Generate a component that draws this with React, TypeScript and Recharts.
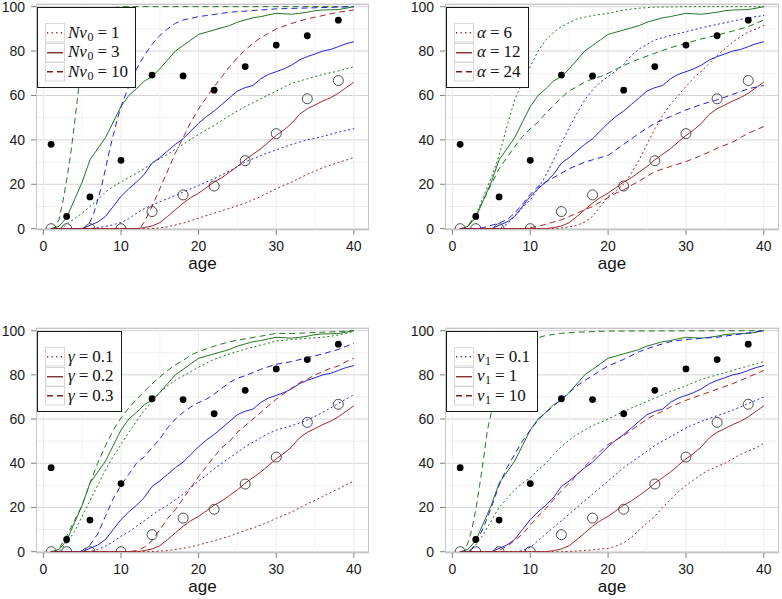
import React from "react";
import {
  ComposedChart,
  Line,
  Scatter,
  XAxis,
  YAxis,
  CartesianGrid,
  ReferenceLine,
} from "recharts";

type Pt = [number, number];

// observed data (same in every panel)
const dotAges = [1, 3, 6, 10, 14, 18, 22, 26, 30, 34, 38];
const filledDots = [38, 5.5, 14.3, 30.8, 69.2, 68.8, 62.4, 73, 82.7, 86.9, 93.9];
const openDots = [0, 0, 0, 0, 7.7, 15.2, 19.2, 30.6, 42.8, 58.5, 66.7];

const xTicks = [0, 10, 20, 30, 40];
const yTicks = [0, 20, 40, 60, 80, 100];

// default curves (solid) shared by all panels
const greenSolid: Pt[] = [[1,0],[1.5,0.5],[2,1],[3,5],[4,13],[5,21],[6,31],[7,36],[8,41],[9,48],[10,55],[11,60],[12,63],[13,66.5],[14,68.5],[15,72],[16,76],[17,80],[18,82.5],[19,85],[20,87.5],[21,88.5],[22,89.5],[23,90.5],[24,91.5],[25,93],[26,94],[27,95],[28,95.5],[29,96.3],[30,97],[31,96.8],[32,96.6],[33,97],[34,97.5],[35,98.2],[36,98.5],[37,98.6],[38,98.7],[39,99.3],[40,100]];
const blueSolid: Pt[] = [[1,0],[5,0],[6,1.5],[7,3],[8,5.5],[9,10],[10,14.5],[11,18],[12,21],[13,24.5],[14,29.5],[15,32],[16,35],[17,38],[18,40.5],[19,44],[20,47.5],[21,50.5],[22,53],[23,56],[24,59],[25,62],[26,63.5],[27,64.5],[28,67.5],[29,69.5],[30,70.7],[31,72],[32,73.7],[33,76],[34,77.5],[35,78.7],[36,80],[37,80.7],[38,82],[39,83.3],[40,84.2]];
const redSolid: Pt[] = [[1,0],[12,0],[13,0.5],[14,1.2],[15,2.7],[16,5.5],[17,8.5],[18,11.5],[19,14],[20,16],[21,18.5],[22,21],[23,23],[24,25.5],[25,28],[26,31],[27,33.5],[28,36],[29,39],[30,42],[31,44.5],[32,47.5],[33,51.5],[34,54],[35,55.7],[36,57.5],[37,59],[38,61],[39,63.5],[40,66]];

// N nu_0
const nu0Labels = ["1", "3", "10"];
const nu0GreenDot: Pt[] = [[1,0],[2,0],[2.5,0.5],[3,2],[4,4.5],[5,7],[6,10],[7,13],[8,16.5],[9,19],[10,21],[11,23],[12,25],[13,27],[14,29.5],[16,33.5],[18,38],[20,42.5],[22,46.5],[24,51],[26,55],[28,58.5],[30,62],[32,65.5],[34,67.5],[36,69.5],[38,71],[40,73]];
const nu0BlueDot: Pt[] = [[1,0],[6,0],[7,0.5],[8,1],[9,1.8],[10,2.8],[11,4.5],[12,7],[13,9],[14,10.7],[16,13.5],[18,16.5],[20,19.5],[22,22.5],[24,26],[26,30],[28,33],[30,35.5],[32,38],[34,40],[36,41.5],[38,43.5],[40,45]];
const nu0RedDot: Pt[] = [[1,0],[14,0],[16,0.8],[18,2.5],[20,4.7],[22,7],[24,9.2],[26,11.5],[28,14.5],[30,18],[32,21],[34,24.5],[36,27.5],[38,29.8],[40,32]];
const nu0GreenDash: Pt[] = [[1,0],[1.5,0.5],[2,4],[2.5,12],[3,22],[3.5,33],[4,47],[4.5,62],[5,75],[6,90],[7,97],[8,99],[10,100],[40,100]];
const nu0BlueDash: Pt[] = [[1,0],[5,0],[5.5,1],[6,3],[6.5,7],[7,13],[7.5,19],[8,27],[8.5,35],[9,42],[9.5,49],[10,55],[11,64],[12,72],[13,78],[14,83],[15,87],[16,90],[17,92.5],[18,94],[20,95.5],[22,96.5],[24,97.5],[26,98],[30,99],[35,99.5],[40,100]];
const nu0RedDash: Pt[] = [[1,0],[12,0],[12.5,0.5],[13,3],[14,10],[15,18],[16,26],[17,34],[18,41],[19,48],[20,54],[21,59],[22,64],[23,68.5],[24,73],[25,77],[26,80.5],[27,83.5],[28,86],[29,88],[30,90],[32,92.5],[34,94.5],[36,96],[38,97.5],[40,98.5]];

// alpha
const alphaLabels = ["6", "12", "24"];
const alphaGreenDot: Pt[] = [[1,0],[1.5,0],[2,1],[3,6],[4,14.5],[5,23],[6,33],[7,46],[8,58],[9,66],[10,73],[11,80],[12,85],[13,88.5],[14,91],[16,94.5],[18,96],[20,97],[22,98.5],[24,99.3],[26,99.8],[30,100],[40,100]];
const alphaBlueDot: Pt[] = [[1,0],[6,0],[7,2],[8,5.5],[9,9.5],[10,13],[11,18],[12,24],[13,31],[14,38.5],[15,45.5],[16,52],[17,58],[18,62.5],[19,66],[20,68.5],[21,71],[22,74],[23,78],[24,81],[25,83],[26,85],[28,87],[30,88.7],[32,90.5],[34,92],[36,93.5],[38,95],[40,96]];
const alphaRedDot: Pt[] = [[1,0],[13,0],[14,0.3],[15,0.8],[16,1.5],[17,3],[18,5.5],[19,10],[20,14.5],[21,17],[22,20],[23,25],[24,31],[25,38],[26,45],[27,51],[28,56],[29,60],[30,64],[31,68],[32,71],[33,74.5],[34,78],[35,81],[36,84],[37,86.5],[38,88.5],[39,90],[40,91.5]];
const alphaGreenDash: Pt[] = [[1,0],[1.5,0],[2,1.5],[3,6],[4,13],[5,20],[6,27],[7,32],[8,37],[9,41.5],[10,45],[11,48],[12,52],[13,55.5],[14,59],[15,62],[16,64],[17,66],[18,67.5],[19,68.5],[20,70],[22,73.5],[24,76.5],[26,79],[28,81.5],[30,83.5],[32,85.5],[34,87.2],[36,89],[38,91],[40,94]];
const alphaBlueDash: Pt[] = [[1,0],[3,0],[4,0.5],[5,1.5],[6,2.5],[7,4],[8,7],[9,11],[10,15.5],[11,19],[12,21],[13,23],[14,25],[15,27],[16,28.5],[17,30],[18,31],[20,33],[22,38],[24,43],[26,47.5],[28,50.5],[30,53.5],[32,56],[34,58],[36,60.5],[38,63],[40,64.5]];
const alphaRedDash: Pt[] = [[1,0],[9,0],[10,0.5],[11,1],[12,2],[13,3],[14,4],[15,5.5],[16,7],[17,8.5],[18,10],[19,12],[20,14],[21,16],[22,17.5],[24,21.5],[26,25.7],[28,28],[30,30.2],[32,33],[34,36.2],[36,39],[38,43],[40,46]];

// gamma
const gammaLabels = ["0.1", "0.2", "0.3"];
const gammaGreenDot: Pt[] = [[1,0],[2,0],[3,4],[4,9],[5,16],[6,23],[7,30],[8,37],[9,43],[10,48.5],[11,54],[12,59],[13,64],[14,68],[15,72],[16,75],[17,77.5],[18,79.5],[19,81.5],[20,83.5],[22,87],[24,89.5],[26,91.6],[28,93.5],[30,95.3],[32,96],[34,96.5],[36,97],[38,98],[40,99.7]];
const gammaBlueDot: Pt[] = [[1,0],[6,0],[7,1],[8,2.5],[9,4.5],[10,7],[11,9],[12,11.5],[13,14],[14,16.5],[15,19],[16,21],[17,23.5],[18,26],[19,29],[20,32],[21,34.5],[22,37.5],[23,40],[24,42.5],[25,45],[26,47.5],[27,49.5],[28,51.5],[29,53.5],[30,55],[32,57],[34,59.5],[36,63],[38,67],[40,71]];
const gammaRedDot: Pt[] = [[1,0],[14,0],[16,0.5],[18,1.5],[20,3],[22,5],[24,7],[26,9.6],[28,12],[30,15],[32,18],[34,21.6],[36,25],[38,28.5],[40,32]];
const gammaGreenDash: Pt[] = [[1,0],[1.5,0],[2,1.5],[3,7],[4,14],[5,21],[6,31],[7,40],[8,48],[9,55],[10,60.5],[11,65],[12,69],[13,72.5],[14,76],[15,79],[16,82],[17,84.5],[18,86.5],[19,89],[20,90.5],[22,93],[24,95],[26,96.3],[28,97.5],[30,98.8],[32,98.7],[34,99],[36,99.3],[38,99.6],[40,100]];
const gammaBlueDash: Pt[] = [[1,0],[4,0],[5,0.5],[6,3],[7,8],[8,16],[9,24],[10,30],[11,35],[12,40],[13,43],[14,47],[15,51],[16,56],[17,60],[18,63],[19,65.5],[20,67.5],[21,69],[22,71.3],[23,74],[24,76.5],[25,78.5],[26,79.6],[28,82.5],[30,84.8],[32,86],[34,87.8],[36,89.5],[38,91.5],[40,94.3]];
const gammaRedDash: Pt[] = [[1,0],[11,0],[12,0.5],[13,2],[14,5],[15,10],[16,15],[17,19],[18,24],[19,29],[20,34],[21,38.5],[22,43],[23,47],[24,50],[25,54],[26,57],[27,60],[28,63],[29,66],[30,69],[31,71.5],[32,74],[33,76.5],[34,78],[35,80],[36,81.5],[37,83],[38,84],[39,86],[40,87.5]];

// nu_1
const nu1Labels = ["0.1", "1", "10"];
const nu1GreenDot: Pt[] = [[1,0],[2,0],[3,3],[4,8],[5,14],[6,20],[7,24],[8,28],[9,31],[10,33.5],[11,37],[12,40],[13,44],[14,47.5],[15,50.5],[16,53],[17,55],[18,57],[19,58.5],[20,60],[22,63.5],[24,66.5],[26,69.5],[28,72.5],[30,75],[32,78],[34,80],[36,82],[38,84],[40,86]];
const nu1BlueDot: Pt[] = [[1,0],[8,0],[9,0.5],[10,2],[11,5],[12,8],[13,11],[14,14],[15,17],[16,20],[17,23],[18,26],[19,29],[20,32],[21,35],[22,38],[23,40.5],[24,43],[25,45.5],[26,48],[27,50],[28,52],[29,54],[30,56],[32,59],[34,61.5],[36,64],[38,67],[40,70]];
const nu1RedDot: Pt[] = [[1,0],[14,0],[16,0.3],[18,0.8],[20,1.5],[21,2.5],[22,4],[23,6.5],[24,9.8],[25,13],[26,16],[27,20],[28,23.5],[29,27],[30,30],[31,32.5],[32,35],[33,37],[34,38.5],[35,40],[36,42],[37,44],[38,45.5],[39,47],[40,49]];
const nu1GreenDash: Pt[] = [[1,0],[1.5,0],[2,4],[2.5,10],[3,19],[3.5,30],[4,42],[4.5,55],[5,63],[6,75],[7,84],[8,90],[9,93.5],[10,95.5],[11,96.8],[12,97.8],[14,98.8],[16,99.3],[20,99.8],[40,100]];
const nu1BlueDash: Pt[] = [[1,0],[2,0],[2.5,1],[3,4],[4,11],[5,20],[6,30],[7,38],[8,44],[9,50],[10,55],[11,59.5],[12,63],[13,66],[14,69],[15,72],[16,75],[17,77.5],[18,79.6],[19,82],[20,84],[22,87],[24,90.5],[26,93],[28,95],[30,96],[32,96.5],[34,97],[36,98],[38,99],[40,100]];
const nu1RedDash: Pt[] = [[1,0],[5,0],[6,0.5],[7,2.5],[8,5],[9,8],[10,12],[11,16],[12,19.5],[13,23.5],[14,27.5],[15,31],[16,34.5],[17,38.5],[18,42],[19,45.5],[20,48.5],[21,50.5],[22,52.5],[23,55],[24,57.5],[25,60],[26,62],[27,63.5],[28,65.5],[29,67],[30,68.5],[32,71],[34,73.5],[36,76],[38,79],[40,82]];

const GREEN = "#237523";
const BLUE = "#2424dd";
const RED = "#a12828";
const KEY = "#7a1c1c";
const DOTTED = "1.2 3.4";
const DASHED = "6 4";
const SANS = "'Liberation Sans', Arial, Helvetica, sans-serif";
const SERIF = "'Liberation Serif', 'DejaVu Serif', serif";

const toRows = (pts: Pt[]) => pts.map(([age, v]) => ({ age, v }));
const filledRows = dotAges.map((age, i) => ({ age, v: filledDots[i] }));
const openRows = dotAges.map((age, i) => ({ age, v: openDots[i] }));

const I = ({ children }: { children: React.ReactNode }) => <i>{children}</i>;
const Sub = ({ children }: { children: React.ReactNode }) => (
  <span style={{ fontSize: 12, position: "relative", top: 3, marginLeft: 0.5 }}>{children}</span>
);

const symbols: Record<string, React.ReactNode> = {
  nu0: (<><I>N</I><I>ν</I><Sub>0</Sub></>),
  alpha: <I>α</I>,
  gamma: <I>γ</I>,
  nu1: (<><I>ν</I><Sub>1</Sub></>),
};

interface PanelCfg {
  id: string;
  left: number;
  top: number;
  yw: number;
  pw: number;
  ph: number;
  right: number;
  xh: number;
  labels: string[];
  dot: Pt[][];
  dash: Pt[][];
}

const panels: PanelCfg[] = [
  { id: "nu0", left: 0, top: 0, yw: 36, pw: 333, ph: 226, right: 22, xh: 70, labels: nu0Labels,
    dot: [nu0GreenDot, nu0BlueDot, nu0RedDot], dash: [nu0GreenDash, nu0BlueDash, nu0RedDash] },
  { id: "alpha", left: 391, top: 0, yw: 54, pw: 334, ph: 226, right: 3, xh: 70, labels: alphaLabels,
    dot: [alphaGreenDot, alphaBlueDot, alphaRedDot], dash: [alphaGreenDash, alphaBlueDash, alphaRedDash] },
  { id: "gamma", left: 0, top: 324, yw: 36, pw: 333, ph: 225, right: 22, xh: 46, labels: gammaLabels,
    dot: [gammaGreenDot, gammaBlueDot, gammaRedDot], dash: [gammaGreenDash, gammaBlueDash, gammaRedDash] },
  { id: "nu1", left: 391, top: 324, yw: 54, pw: 334, ph: 225, right: 3, xh: 46, labels: nu1Labels,
    dot: [nu1GreenDot, nu1BlueDot, nu1RedDot], dash: [nu1GreenDash, nu1BlueDash, nu1RedDash] },
];

const colors = [GREEN, BLUE, RED];
const solids = [greenSolid, blueSolid, redSolid];
const keyDash = [DOTTED, undefined, DASHED];

function Legend({ cfg }: { cfg: PanelCfg }) {
  return (
    <div
      style={{
        position: "absolute",
        left: cfg.left + cfg.yw + 1,
        top: cfg.top + 4 + 3,
        height: 81,
        boxSizing: "border-box",
        border: "1.3px solid #1a1a1a",
        background: "#fff",
        padding: "15px 7px 0 7px",
      }}
    >
      {cfg.labels.map((lab, i) => (
        <div key={i} style={{ display: "flex", alignItems: "center", height: 19.5 }}>
          <svg width={20} height={19.5} style={{ display: "block" }}>
            <rect x={0.5} y={0.5} width={19} height={18.5} fill="#fff" stroke="#d6d6d6" />
            <line x1={2} x2={18} y1={9.75} y2={9.75} stroke={KEY} strokeWidth={1.3} strokeDasharray={keyDash[i]} />
          </svg>
          <span style={{ marginLeft: 3, fontFamily: SERIF, fontSize: 17, whiteSpace: "nowrap", color: "#111" }}>
            {symbols[cfg.id]}
            <span style={{ margin: "0 4px" }}>=</span>
            {lab}
          </span>
        </div>
      ))}
    </div>
  );
}

function Panel({ cfg }: { cfg: PanelCfg }) {
  const width = cfg.yw + cfg.pw + cfg.right;
  const height = 4 + cfg.ph + cfg.xh;
  const tickStyle = { fontSize: 14, fill: "#1a1a1a", fontFamily: SANS };
  return (
    <>
      <div style={{ position: "absolute", left: cfg.left, top: cfg.top }}>
        <ComposedChart width={width} height={height} margin={{ top: 4, right: cfg.right, bottom: 0, left: 0 }}>
          {[10, 30, 50, 70, 90].map((y) => (
            <ReferenceLine key={"hy" + y} y={y} stroke="#f1f1f1" strokeWidth={1} />
          ))}
          {[5, 15, 25, 35].map((x) => (
            <ReferenceLine key={"hx" + x} x={x} stroke="#f4f4f4" strokeWidth={1} />
          ))}
          {xTicks.map((x) => (
            <ReferenceLine key={"vx" + x} x={x} stroke="#ebebeb" strokeWidth={1} />
          ))}
          <CartesianGrid vertical={false} stroke="#d4d4d4" strokeWidth={1} />
          <XAxis
            dataKey="age"
            type="number"
            domain={[-0.95, 41.95]}
            ticks={xTicks}
            interval={0}
            allowDataOverflow
            height={cfg.xh}
            axisLine={false}
            tickLine={{ stroke: "#7f7f7f" }}
            tickSize={5}
            tickMargin={6}
            tick={tickStyle}
            label={{ value: "age", position: "insideBottom", offset: cfg.xh - 39, fontSize: 17, fill: "#111", fontFamily: SANS }}
          />
          <YAxis
            dataKey="v"
            type="number"
            domain={[-0.6, 101.2]}
            ticks={yTicks}
            interval={0}
            allowDataOverflow
            width={cfg.yw}
            axisLine={false}
            tickLine={{ stroke: "#7f7f7f" }}
            tickSize={5}
            tickMargin={6}
            tick={tickStyle}
          />
          {colors.map((c, i) => (
            <Line key={"d" + i} data={toRows(cfg.dot[i])} dataKey="v" type="linear" stroke={c} strokeWidth={1}
              strokeDasharray={DOTTED} strokeLinecap="round" dot={false} activeDot={false} isAnimationActive={false} />
          ))}
          {colors.map((c, i) => (
            <Line key={"s" + i} data={toRows(solids[i])} dataKey="v" type="linear" stroke={c} strokeWidth={1}
              dot={false} activeDot={false} isAnimationActive={false} />
          ))}
          {colors.map((c, i) => (
            <Line key={"a" + i} data={toRows(cfg.dash[i])} dataKey="v" type="linear" stroke={c} strokeWidth={1}
              strokeDasharray={DASHED} dot={false} activeDot={false} isAnimationActive={false} />
          ))}
          <Scatter data={openRows} isAnimationActive={false}
            shape={(p: any) => <circle cx={p.cx} cy={p.cy} r={5} fill="none" stroke="#3a3a3a" strokeWidth={0.9} />} />
          <Scatter data={filledRows} isAnimationActive={false}
            shape={(p: any) => <circle cx={p.cx} cy={p.cy} r={3.4} fill="#000" />} />
        </ComposedChart>
      </div>
      <div
        style={{
          position: "absolute",
          left: cfg.left + cfg.yw,
          top: cfg.top + 4,
          width: cfg.pw,
          height: cfg.ph,
          boxSizing: "border-box",
          border: "1px solid #c6c6c6",
          pointerEvents: "none",
        }}
      />
      <Legend cfg={cfg} />
    </>
  );
}

export default function App() {
  return (
    <div style={{ position: "absolute", left: 0, top: 0, width: 782, height: 599, background: "#fff", overflow: "hidden" }}>
      {panels.map((p) => (
        <Panel key={p.id} cfg={p} />
      ))}
    </div>
  );
}
